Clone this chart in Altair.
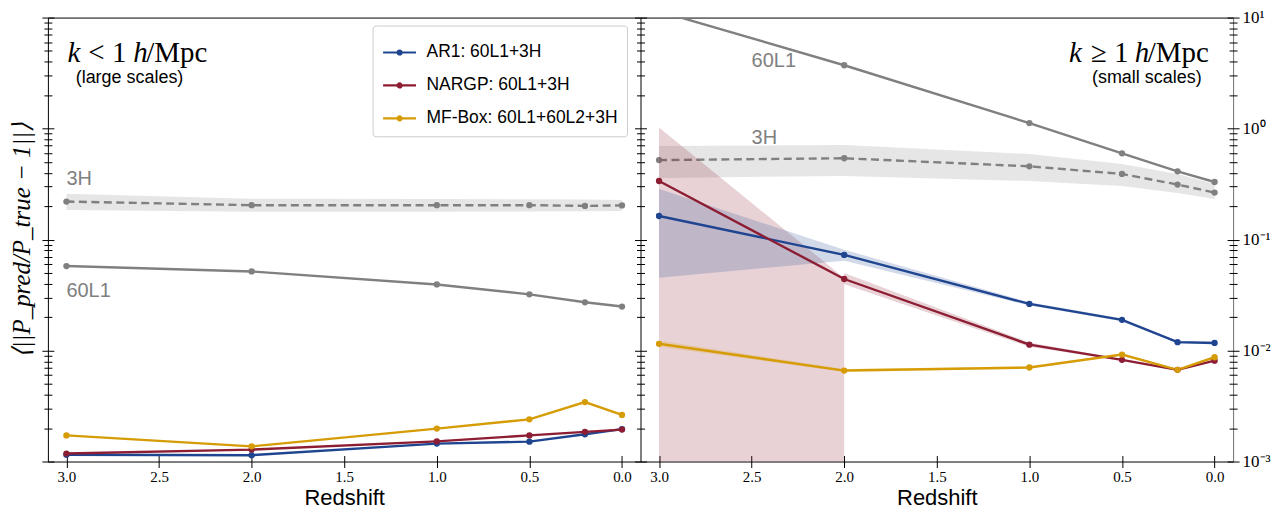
import altair as alt
import pandas as pd

# ---------------- data ----------------
Z = [3.0, 2.0, 1.0, 0.5, 0.2, 0.0]
SERIES = ["AR1: 60L1+3H", "NARGP: 60L1+3H", "MF-Box: 60L1+60L2+3H"]
COLORS = ["#1f4591", "#8c1d33", "#d69c06"]
GRAY = "#808080"

# k < 1 h/Mpc (large scales)
LO_AR1 = [0.00115, 0.00114, 0.00145, 0.00151, 0.00176, 0.00196]
LO_NARGP = [0.00118, 0.00128, 0.00152, 0.00172, 0.00185, 0.00194]
LO_MFBOX = [0.00172, 0.00137, 0.00198, 0.00240, 0.00343, 0.00263]
LO_60L1 = [0.0577, 0.0516, 0.0394, 0.0321, 0.0272, 0.0249]
LO_3H = [0.220, 0.204, 0.204, 0.204, 0.201, 0.203]
LO_3H_LOW = [0.185, 0.178, 0.178, 0.179, 0.180, 0.181]
LO_3H_HIGH = [0.258, 0.233, 0.232, 0.231, 0.229, 0.227]

# k >= 1 h/Mpc (small scales)
HI_AR1 = [0.163, 0.0727, 0.0263, 0.0189, 0.0119, 0.0117]
HI_AR1_LOW = [0.0453, 0.0644, 0.0255, 0.0184, 0.0116, 0.0114]
HI_AR1_HIGH = [0.286, 0.0809, 0.0272, 0.0194, 0.0122, 0.0120]
HI_NARGP = [0.337, 0.0441, 0.0113, 0.00824, 0.0067, 0.0081]
Z_A = [3.0, 2.0]
HI_NARGP_LOW_A = [1e-5, 1e-5]
HI_NARGP_HIGH_A = [1.02, 0.045]
Z_B = [2.0, 1.0, 0.5, 0.2, 0.0]
HI_NARGP_LOW_B = [0.0395, 0.0108, 0.0081, 0.0066, 0.0080]
HI_NARGP_HIGH_B = [0.0500, 0.0118, 0.0084, 0.0068, 0.0082]
HI_MFBOX = [0.0115, 0.0066, 0.00703, 0.0092, 0.0067, 0.0087]
HI_MFBOX_LOW = [0.0108, 0.0064, 0.0069, 0.0090, 0.0066, 0.0085]
HI_MFBOX_HIGH = [0.0123, 0.0068, 0.0072, 0.0094, 0.0068, 0.0089]
HI_60L1 = [11.4, 3.72, 1.12, 0.598, 0.412, 0.330]
HI_3H = [0.52, 0.54, 0.457, 0.39, 0.313, 0.265]
HI_3H_LOW = [0.359, 0.374, 0.337, 0.304, 0.263, 0.232]
HI_3H_HIGH = [0.696, 0.711, 0.590, 0.480, 0.390, 0.317]

X_TICKS = [0.0, 0.5, 1.0, 1.5, 2.0, 2.5, 3.0]
Y_MAJOR = [1e-3, 1e-2, 1e-1, 1.0, 10.0]
Y_MINOR = [m * 10.0 ** e for e in range(-3, 1) for m in range(2, 10)]

# annotation anchors (data coordinates)
LEFT_LABELS = ["3H", "60L1"]
LEFT_LABEL_Z = [3.0, 3.0]
LEFT_LABEL_VAL = [0.352, 0.0346]
RIGHT_LABELS = ["60L1", "3H"]
RIGHT_LABEL_Z = [2.5, 2.5]
RIGHT_LABEL_VAL = [4.04, 0.82]

# ---------------- helpers ----------------
W, H = 594, 445
LW = 2.4
PT = 40
xscale = alt.Scale(domain=[-0.1, 3.1], reverse=True, nice=False, zero=False)
yscale = alt.Scale(type="log", domain=[1e-3, 10], nice=False)
cscale = alt.Scale(domain=SERIES, range=COLORS)

SERIF = "Liberation Serif"
SANS = "Liberation Sans"

SYMBOL = ("M-1,0L1,0"
          "M0.121,0A0.121,0.121,0,1,1,-0.121,0A0.121,0.121,0,1,1,0.121,0"
          "M0.061,0A0.061,0.061,0,1,1,-0.061,0A0.061,0.061,0,1,1,0.061,0")


def long_df(zs, series_map):
    rows = []
    for s, vals in series_map.items():
        for z, v in zip(zs, vals):
            rows.append({"z": z, "val": v, "series": s})
    return pd.DataFrame(rows)


def band_df(zs, low, high, series="", seg="a"):
    return pd.DataFrame({"z": zs, "low": low, "high": high,
                         "series": [series] * len(zs), "seg": [seg] * len(zs)})


def X():
    return alt.X("z:Q", scale=xscale, axis=None)


def Y(field="val"):
    return alt.Y(f"{field}:Q", scale=yscale, axis=None)


def spine(orient, color="black", **kw):
    return alt.Axis(orient=orient, domain=True, domainColor=color, domainWidth=1,
                    ticks=False, labels=False, grid=False, title=None, **kw)


def ytick(orient, major=True, labels=False):
    size = 12 if major else 8
    kw = dict(orient=orient, values=Y_MAJOR if major else Y_MINOR,
              tickSize=size, offset=-size / 2, domain=False, grid=False,
              ticks=True, tickColor="black", tickWidth=1, title=None, labels=labels)
    if labels:
        kw.update(labelExpr=("datum.value > 5 ? '10¹' : datum.value > 0.5 ? '10⁰' : "
                             "datum.value > 0.05 ? '10⁻¹' : datum.value > 0.005 ? '10⁻²' : '10⁻³'"),
                  labelFont=SERIF, labelFontSize=17, labelColor="black", labelPadding=3,
                  labelFlush=False, labelOverlap=False)
    return alt.Axis(**kw)


XTICK = alt.Axis(orient="bottom", values=X_TICKS, format=".1f", tickSize=12, offset=-6,
                 domain=False, grid=False, ticks=True, tickColor="black", tickWidth=1,
                 labels=True, labelFont=SERIF, labelFontSize=15, labelColor="black",
                 labelPadding=2, labelFlush=False, labelOverlap=False,
                 title="Redshift", titleFont=SANS, titleFontSize=22, titleFontWeight="normal",
                 titleColor="black", titlePadding=3)

YTITLE = alt.Axis(orient="left", domain=True, domainColor="black", domainWidth=1,
                  ticks=False, labels=False, grid=False,
                  title="⟨||P_pred/P_true − 1||⟩", titleFont=SERIF, titleFontStyle="italic",
                  titleFontSize=25, titleFontWeight="normal", titleColor="black", titlePadding=13)


def axis_layer(df, xaxis, yaxis):
    return alt.Chart(df).mark_point(opacity=0).encode(
        x=alt.X("z:Q", scale=xscale, axis=xaxis),
        y=alt.Y("val:Q", scale=yscale, axis=yaxis),
    )


def gray_layers(l60, l3h, b3h):
    band = alt.Chart(b3h).mark_area(color=GRAY, opacity=0.2, clip=True).encode(
        x=X(), y=Y("low"), y2="high:Q")
    d60 = long_df(Z, {"60L1": l60})
    d3h = long_df(Z, {"3H": l3h})
    line60 = alt.Chart(d60).mark_line(color=GRAY, strokeWidth=LW, clip=True).encode(x=X(), y=Y())
    pt60 = alt.Chart(d60).mark_circle(color=GRAY, size=PT, opacity=1, clip=True).encode(x=X(), y=Y())
    line3 = alt.Chart(d3h).mark_line(color=GRAY, strokeWidth=LW, strokeDash=[8, 4.5], clip=True).encode(x=X(), y=Y())
    pt3 = alt.Chart(d3h).mark_circle(color=GRAY, size=PT, opacity=1, clip=True).encode(x=X(), y=Y())
    return band, line60, pt60, line3, pt3


def colored_layers(df, legend):
    line = alt.Chart(df).mark_line(strokeWidth=LW, clip=True).encode(
        x=X(), y=Y(), color=alt.Color("series:N", scale=cscale, legend=legend))
    pts = alt.Chart(df).mark_circle(size=PT, opacity=1, clip=True).encode(
        x=X(), y=Y(), color=alt.Color("series:N", scale=cscale, legend=None))
    return line, pts


def text_layer(labels, zs, vals, align, size, font, color="black", style="normal", dx=0):
    df = pd.DataFrame({"label": labels, "z": zs, "val": vals})
    return alt.Chart(df).mark_text(align=align, baseline="middle", font=font, fontSize=size,
                                   color=color, fontStyle=style, dx=dx).encode(
        x=X(), y=Y(), text="label:N")


LEGEND = alt.Legend(title=None, orient="none", legendX=325.5, legendY=8, direction="vertical",
                    fillColor="white", strokeColor="#cccccc", cornerRadius=3, padding=9,
                    rowPadding=6, labelFont=SANS, labelFontSize=17.5, labelColor="black",
                    labelOffset=9, labelLimit=400, symbolType=SYMBOL, symbolSize=1089,
                    symbolStrokeWidth=2.2, symbolOpacity=1)

# ---------------- left panel ----------------
left_col = long_df(Z, {SERIES[0]: LO_AR1, SERIES[1]: LO_NARGP, SERIES[2]: LO_MFBOX})
left_band3h = band_df(Z, LO_3H_LOW, LO_3H_HIGH)
lc_line, lc_pts = colored_layers(left_col, LEGEND)

left_layers = [
    *gray_layers(LO_60L1, LO_3H, left_band3h),
    lc_line, lc_pts,
    text_layer(LEFT_LABELS, LEFT_LABEL_Z, LEFT_LABEL_VAL, "left", 20, SANS, GRAY),
    text_layer(["k"], [3.0], [4.77], "left", 29, SERIF, style="italic", dx=1),
    text_layer(["< 1"], [3.0], [4.77], "left", 29, SERIF, dx=22),
    text_layer(["h"], [3.0], [4.77], "left", 29, SERIF, style="italic", dx=67),
    text_layer(["/Mpc"], [3.0], [4.77], "left", 29, SERIF, dx=80),
    text_layer(["(large scales)"], [2.95], [2.84], "left", 18, SANS),
    axis_layer(left_col, spine("bottom"), YTITLE),
    axis_layer(left_col, XTICK, ytick("left", True)),
    axis_layer(left_col, spine("top"), ytick("left", False)),
    axis_layer(left_col, None, ytick("right", True)),
    axis_layer(left_col, None, ytick("right", False)),
    axis_layer(left_col, None, spine("right")),
]
left = alt.layer(*left_layers).resolve_axis(x="independent", y="independent").properties(
    width=W, height=H)

# ---------------- right panel ----------------
right_col = long_df(Z, {SERIES[0]: HI_AR1, SERIES[1]: HI_NARGP, SERIES[2]: HI_MFBOX})
right_band3h = band_df(Z, HI_3H_LOW, HI_3H_HIGH)
right_bands = pd.concat([
    band_df(Z_A, HI_NARGP_LOW_A, HI_NARGP_HIGH_A, SERIES[1], "a"),
    band_df(Z_B, HI_NARGP_LOW_B, HI_NARGP_HIGH_B, SERIES[1], "b"),
    band_df(Z, HI_AR1_LOW, HI_AR1_HIGH, SERIES[0], "c"),
    band_df(Z, HI_MFBOX_LOW, HI_MFBOX_HIGH, SERIES[2], "d"),
], ignore_index=True)
rc_line, rc_pts = colored_layers(right_col, None)
rbands = alt.Chart(right_bands).mark_area(opacity=0.2, clip=True).encode(
    x=X(), y=Y("low"), y2="high:Q",
    color=alt.Color("series:N", scale=cscale, legend=None), detail="seg:N")

right_layers = [
    *gray_layers(HI_60L1, HI_3H, right_band3h),
    rbands,
    rc_line, rc_pts,
    text_layer(RIGHT_LABELS, RIGHT_LABEL_Z, RIGHT_LABEL_VAL, "left", 20, SANS, GRAY),
    text_layer(["k"], [0.0], [4.77], "left", 29, SERIF, style="italic", dx=-146),
    text_layer(["≥ 1"], [0.0], [4.77], "left", 29, SERIF, dx=-124),
    text_layer(["h"], [0.0], [4.77], "left", 29, SERIF, style="italic", dx=-80),
    text_layer(["/Mpc"], [0.0], [4.77], "left", 29, SERIF, dx=-67),
    text_layer(["(small scales)"], [0.07], [2.84], "right", 18, SANS),
    axis_layer(right_col, spine("bottom"), spine("right", color="#707070")),
    axis_layer(right_col, XTICK, ytick("right", True, labels=True)),
    axis_layer(right_col, spine("top"), ytick("right", False)),
]
right = alt.layer(*right_layers).resolve_axis(x="independent", y="independent").properties(
    width=W, height=H)

chart = alt.hconcat(left, right, spacing=0, bounds="flush").configure_view(
    stroke=None).properties(
    padding={"left": 2, "top": 0, "right": 5, "bottom": 0}, background="white")

chart.save("out.html", embed_options={"renderer": "svg", "actions": False})
